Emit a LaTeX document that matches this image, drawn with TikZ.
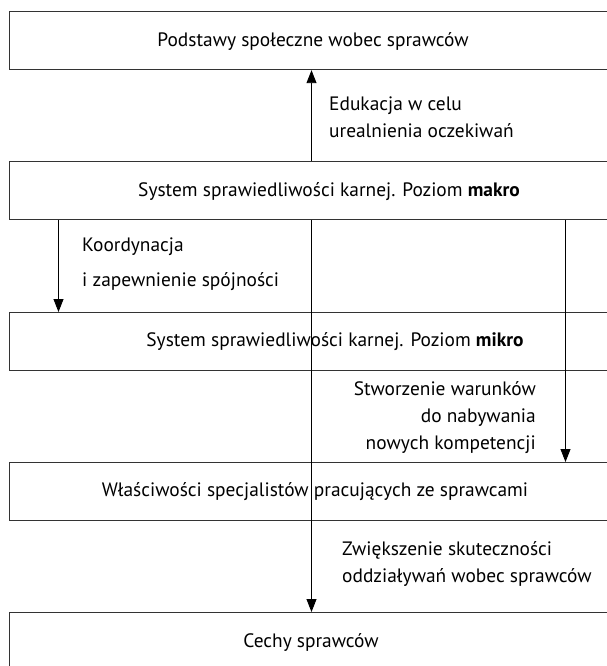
\documentclass[tikz,border=0pt]{standalone}
\usepackage{fontspec}
\setmainfont{PT Sans}
\usetikzlibrary{arrows.meta}
\begin{document}
\begin{tikzpicture}[x=1pt,y=-1pt,
  box/.style={draw=black!80,line width=1.2pt,minimum width=660pt,minimum height=58pt,anchor=north west,inner sep=0pt},
  txt/.style={font=\fontsize{19.4}{27}\selectfont,inner sep=0pt},
  conn/.style={line width=0.9pt,-{Triangle[length=13pt,width=10pt]}}]
\useasboundingbox (0,0) rectangle (607,666);
\clip (0,0) rectangle (607,666);
\fill[white] (0,0) rectangle (607,666);
\node[box] (top) at (9,11) {};
\node[box] (macro) at (9,161) {};
\node[box] (mikro) at (9,312) {};
\node[box] (spec) at (9,462) {};
\node[box] (cechy) at (9,612) {};
\coordinate (cx) at (311.5,0);
\coordinate (lx) at (58.5,0);
\coordinate (rx) at (565.5,0);
\node[txt] (ttop) at (313,42) {Podstawy społeczne wobec sprawców};
\node[txt] (tmacro) at (329,192) {System sprawiedliwości karnej. Poziom \textbf{makro}};
\node[txt] (tmikro) at (335,342) {System sprawiedliwości karnej. Poziom \textbf{mikro}};
\node[txt] (tspec) at (315,492) {Właściwości specjalistów pracujących ze sprawcami};
\node[txt] (tcechy) at (311,642) {Cechy sprawców};
\draw[conn] (macro.north -| cx) -- (top.south -| cx);
\draw[conn] (macro.south -| cx) -- (cechy.north -| cx);
\draw[conn] (macro.south -| lx) -- (mikro.north -| lx);
\draw[conn] (macro.south -| rx) -- (spec.north -| rx);
\node[txt,align=left,anchor=west] (ledu) at (329,117) {Edukacja w celu\\urealnienia oczekiwań};
\node[txt,align=left,anchor=west,font=\fontsize{19.4}{35}\selectfont] (lkoord) at (82,264.5) {Koordynacja\\i zapewnienie spójności};
\node[txt,align=right,anchor=east] (lstw) at (536,418) {Stworzenie warunków\\do nabywania\\nowych kompetencji};
\node[txt,align=left,anchor=west] (lzwi) at (342,564) {Zwiększenie skuteczności\\oddziaływań wobec sprawców};
\end{tikzpicture}
\end{document}
